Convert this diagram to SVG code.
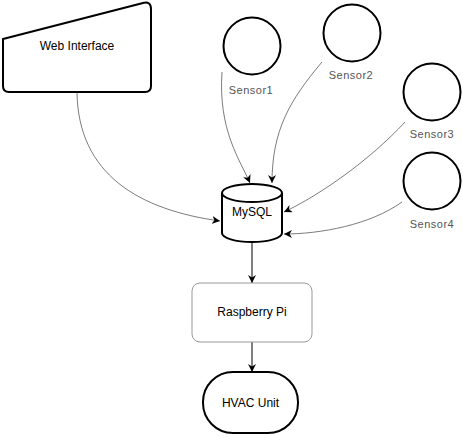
<svg xmlns="http://www.w3.org/2000/svg" width="463" height="437" viewBox="0 0 463 437">
<style>
.shape{fill:#fff;stroke:#000;stroke-width:2}
.lbl{font-family:"Liberation Sans",Arial,sans-serif;font-size:12px;fill:#000;text-anchor:middle}
.slbl{font-family:"Liberation Sans",Arial,sans-serif;font-size:11px;fill:#555;text-anchor:middle;letter-spacing:0.5px}
.edge{fill:none;stroke:#444;stroke-width:0.7}
.edge2{fill:none;stroke:#000;stroke-width:1}
</style>
<defs>
<marker id="arr" viewBox="0 0 10 10" refX="10" refY="5" markerWidth="8" markerHeight="8" markerUnits="userSpaceOnUse" orient="auto">
<path d="M0 0 L10 5 L0 10 L3 5 Z" fill="#000"/>
</marker>
</defs>
<rect width="463" height="437" fill="#fff"/>
<g id="edges">
<path class="edge" d="M77 92 C 78 175, 140 210, 220 221" marker-end="url(#arr)"/>
<path class="edge" d="M222 72 C 218 130, 240 160, 250 183" marker-end="url(#arr)"/>
<path class="edge" d="M322 62 C 290 100, 272 130, 272 183" marker-end="url(#arr)"/>
<path class="edge" d="M405 122 C 370 160, 320 195, 284 212" marker-end="url(#arr)"/>
<path class="edge" d="M402 202 C 370 225, 320 234, 284 234" marker-end="url(#arr)"/>
<path class="edge2" d="M252 243 L252 283" marker-end="url(#arr)"/>
<path class="edge2" d="M252 342 L252 372" marker-end="url(#arr)"/>
</g>
<g id="web">
<path class="shape" d="M3 39 L143 3 Q151 1 151 9 L151 86 Q151 92 145 92 L9 92 Q3 92 3 86 Z"/>
<text class="lbl" x="77" y="50">Web Interface</text>
</g>
<g id="sensor1">
<circle class="shape" cx="252" cy="46" r="28.5"/>
<text class="slbl" x="251" y="94">Sensor1</text>
</g>
<g id="sensor2">
<circle class="shape" cx="352" cy="33" r="28.5"/>
<text class="slbl" x="351" y="79">Sensor2</text>
</g>
<g id="sensor3">
<circle class="shape" cx="432" cy="92" r="28.5"/>
<text class="slbl" x="432" y="138">Sensor3</text>
</g>
<g id="sensor4">
<circle class="shape" cx="432" cy="181" r="28.5"/>
<text class="slbl" x="432" y="228">Sensor4</text>
</g>
<g id="mysql">
<path class="shape" d="M222 193 A30 9 0 0 1 282 193 L282 233 A30 9 0 0 1 222 233 Z"/>
<path class="shape" style="fill:none" d="M222 193 A30 9 0 0 0 282 193"/>
<text class="lbl" x="252" y="216">MySQL</text>
</g>
<g id="raspberry">
<rect x="192" y="283" width="120" height="59" rx="8" fill="#fff" stroke="#999" stroke-width="1"/>
<text class="lbl" x="252" y="316">Raspberry Pi</text>
</g>
<g id="hvac">
<rect class="shape" x="203" y="372" width="95" height="61" rx="30"/>
<text class="lbl" x="250.5" y="407">HVAC Unit</text>
</g>
</svg>
